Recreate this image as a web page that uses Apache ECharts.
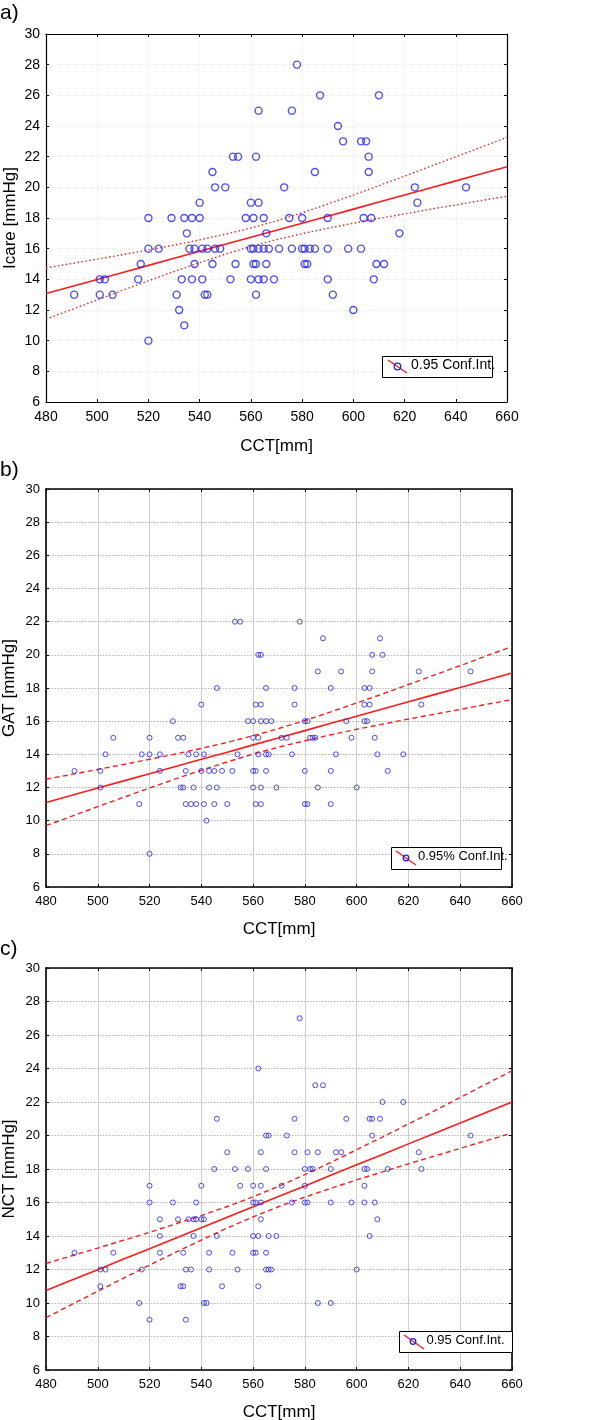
<!DOCTYPE html>
<html><head><meta charset="utf-8">
<script src="https://cdn.jsdelivr.net/npm/echarts@6/dist/echarts.min.js"></script>
<style>html,body{margin:0;padding:0;background:#fff}#c{width:600px;height:1420px}</style>
</head><body><div id="c"></div><script>
// ---------- data ----------
// Panel a) Icare [mmHg] vs CCT [mm]
const icarePts = [
 [578,28],[587,26],[610,26],[563,25],[576,25],[594,24],[596,23],[603,23],[605,23],
 [553,22],[555,22],[562,22],[606,22],[545,21],[585,21],[606,21],
 [546,20],[550,20],[573,20],[624,20],[644,20],[540,19],[560,19],[563,19],[625,19],
 [520,18],[529,18],[534,18],[537,18],[540,18],[558,18],[561,18],[565,18],[575,18],[580,18],[590,18],[604,18],[607,18],
 [535,17],[566,17],[618,17],
 [520,16],[524,16],[536,16],[538,16],[541,16],[543,16],[546,16],[548,16],[560,16],[561,16],[563,16],[565,16],[567,16],[571,16],[576,16],[580,16],[581,16],[583,16],[585,16],[590,16],[598,16],[603,16],
 [517,15],[538,15],[545,15],[554,15],[561,15],[562,15],[566,15],[581,15],[582,15],[609,15],[612,15],
 [501,14],[503,14],[516,14],[533,14],[537,14],[541,14],[552,14],[560,14],[563,14],[565,14],[569,14],[590,14],[608,14],
 [491,13],[501,13],[506,13],[531,13],[542,13],[543,13],[562,13],[592,13],
 [532,12],[600,12],[534,11],[520,10]
];
// Panel b) GAT [mmHg] vs CCT [mm]
const gatPts = [
 [553,22],[555,22],[578,22],[587,21],[609,21],[562,20],[563,20],[606,20],[610,20],
 [585,19],[594,19],[606,19],[624,19],[644,19],
 [546,18],[565,18],[576,18],[590,18],[603,18],[605,18],
 [540,17],[561,17],[563,17],[576,17],[603,17],[605,17],[625,17],
 [529,16],[558,16],[560,16],[563,16],[565,16],[567,16],[580,16],[581,16],[596,16],[603,16],[604,16],
 [506,15],[520,15],[531,15],[533,15],[560,15],[562,15],[571,15],[573,15],[582,15],[583,15],[584,15],[598,15],[607,15],
 [503,14],[517,14],[520,14],[524,14],[535,14],[538,14],[541,14],[554,14],[562,14],[565,14],[566,14],[575,14],[592,14],[608,14],[618,14],
 [491,13],[501,13],[524,13],[534,13],[540,13],[543,13],[545,13],[548,13],[552,13],[560,13],[561,13],[565,13],[580,13],[590,13],[612,13],
 [501,12],[532,12],[533,12],[537,12],[543,12],[546,12],[560,12],[563,12],[569,12],[585,12],[600,12],
 [516,11],[534,11],[536,11],[538,11],[541,11],[545,11],[550,11],[561,11],[563,11],[580,11],[581,11],[590,11],
 [542,10],[520,8]
];
// Panel c) NCT [mmHg] vs CCT [mm]
const nctPts = [
 [578,27],[562,24],[584,23],[587,23],[610,22],[618,22],
 [546,21],[576,21],[596,21],[605,21],[606,21],[609,21],
 [565,20],[566,20],[573,20],[606,20],[644,20],
 [550,19],[563,19],[576,19],[581,19],[585,19],[592,19],[594,19],[624,19],
 [545,18],[553,18],[558,18],[565,18],[580,18],[582,18],[583,18],[590,18],[603,18],[604,18],[612,18],[625,18],
 [520,17],[540,17],[555,17],[560,17],[563,17],[571,17],[580,17],[603,17],
 [520,16],[529,16],[538,16],[560,16],[561,16],[563,16],[575,16],[580,16],[581,16],[590,16],[598,16],[603,16],[607,16],
 [524,15],[531,15],[535,15],[537,15],[538,15],[540,15],[541,15],[563,15],[608,15],
 [524,14],[537,14],[546,14],[560,14],[562,14],[566,14],[569,14],[605,14],
 [491,13],[506,13],[524,13],[533,13],[543,13],[552,13],[560,13],[561,13],[565,13],
 [501,12],[503,12],[517,12],[534,12],[536,12],[543,12],[554,12],[565,12],[566,12],[567,12],[600,12],
 [501,11],[532,11],[533,11],[548,11],[562,11],
 [516,10],[541,10],[542,10],[585,10],[590,10],[520,9],[534,9]
];
// regression line and 0.95 confidence band, read at these CCT values
const bandX = [480,490,500,510,520,530,540,550,560,570,580,590,600,610,620,630,640,650,660];
const icareFit = [13.07,13.53,13.99,14.45,14.91,15.37,15.83,16.29,16.75,17.20,17.66,18.12,18.58,19.04,19.50,19.96,20.42,20.88,21.34];
const icareUp  = [14.74,15.03,15.32,15.61,15.92,16.23,16.57,16.94,17.35,17.81,18.34,18.91,19.50,20.11,20.73,21.36,21.99,22.62,23.26];
const icareLo  = [11.40,12.03,12.66,13.29,13.90,14.51,15.09,15.64,16.15,16.59,16.98,17.33,17.66,17.97,18.27,18.57,18.85,19.14,19.42];
const gatFit = [11.10,11.53,11.97,12.40,12.83,13.27,13.70,14.13,14.57,15.00,15.43,15.87,16.30,16.73,17.17,17.60,18.03,18.47,18.90];
const gatUp  = [12.50,12.79,13.09,13.39,13.70,14.02,14.36,14.72,15.12,15.56,16.04,16.56,17.10,17.64,18.21,18.78,19.35,19.93,20.50];
const gatLo  = [9.70,10.27,10.85,11.41,11.97,12.52,13.04,13.54,14.02,14.44,14.82,15.18,15.51,15.82,16.13,16.42,16.71,17.01,17.30];
const nctFit = [10.74,11.37,11.99,12.62,13.24,13.87,14.49,15.12,15.74,16.37,16.99,17.62,18.25,18.87,19.50,20.12,20.75,21.38,22.00];
const nctUp  = [12.36,12.82,13.28,13.75,14.22,14.72,15.22,15.76,16.34,16.98,17.66,18.39,19.15,19.91,20.69,21.47,22.27,23.07,23.86];
const nctLo  = [9.12,9.92,10.70,11.49,12.26,13.02,13.76,14.48,15.14,15.76,16.32,16.85,17.35,17.83,18.31,18.77,19.23,19.69,20.14];

const xTitle = 'CCT[mm]';
const yTitles = ['Icare [mmHg]', 'GAT [mmHg]', 'NCT [mmHg]'];
const panelLabels = ['a)', 'b)', 'c)'];
const legendTexts = ['0.95 Conf.Int.', '0.95% Conf.Int.', '0.95 Conf.Int.'];
const xRange = [480, 660, 20];
const yRange = [6, 30, 2];

// ---------- chart ----------
const FONT = '"Liberation Sans", Arial, sans-serif';
const BLUE = '#2020ff';
const RED = '#ff1a1a';
const grids = [
  {left: 46, top: 34, width: 461, height: 368, outerBoundsMode: 'none', containLabel: false},
  {left: 46, top: 489, width: 466, height: 398, outerBoundsMode: 'none', containLabel: false},
  {left: 46, top: 968, width: 466, height: 402, outerBoundsMode: 'none', containLabel: false}
];
const panels = [
  {pts: icarePts, fit: icareFit, up: icareUp, lo: icareLo, sym: 7, bw: 1.4, font: 14, titleFont: 17, dash: [1.5, 2.5], ciW: 1.4,
   vSplit: {color: '#ececec', type: 'dotted', width: 1}, hSplit: {color: '#ececec', type: 'dotted', width: 1}, axisW: 1.2, xGap: 36},
  {pts: gatPts, fit: gatFit, up: gatUp, lo: gatLo, sym: 5, bw: 1, font: 13, titleFont: 17, dash: [5, 3.5], ciW: 1.4,
   vSplit: {color: '#cfcfcf', type: 'solid', width: 1}, hSplit: {color: '#b5b5b5', type: [1.5, 1.5], width: 1}, axisW: 1.6, xGap: 34},
  {pts: nctPts, fit: nctFit, up: nctUp, lo: nctLo, sym: 5, bw: 1, font: 13, titleFont: 17, dash: [5, 3.5], ciW: 1.4,
   vSplit: {color: '#cfcfcf', type: 'solid', width: 1}, hSplit: {color: '#b5b5b5', type: [1.5, 1.5], width: 1}, axisW: 1.6, xGap: 34}
];

const xAxis = [], yAxis = [], series = [];
panels.forEach((p, i) => {
  const line = {show: true, onZero: false, lineStyle: {color: '#000', width: p.axisW}};
  const tick = {show: true, inside: true, length: 3, lineStyle: {color: '#000'}};
  xAxis.push({type: 'value', gridIndex: i, position: 'bottom', min: xRange[0], max: xRange[1], interval: xRange[2],
    axisLine: line, axisTick: tick,
    axisLabel: {color: '#000', fontSize: p.font, fontFamily: FONT, margin: 8},
    splitLine: {show: true, lineStyle: p.vSplit},
    name: xTitle, nameLocation: 'middle', nameGap: p.xGap,
    nameTextStyle: {color: '#000', fontSize: p.titleFont, fontFamily: FONT, verticalAlign: 'top'}});
  xAxis.push({type: 'value', gridIndex: i, position: 'top', min: xRange[0], max: xRange[1], interval: xRange[2],
    axisLine: line, axisTick: tick, axisLabel: {show: false}, splitLine: {show: false}});
  yAxis.push({type: 'value', gridIndex: i, position: 'left', min: yRange[0], max: yRange[1], interval: yRange[2],
    axisLine: line, axisTick: tick,
    axisLabel: {color: '#000', fontSize: p.font, fontFamily: FONT, margin: 6},
    splitLine: {show: true, lineStyle: p.hSplit}});
  yAxis.push({type: 'value', gridIndex: i, position: 'right', min: yRange[0], max: yRange[1], interval: yRange[2],
    axisLine: line, axisTick: tick, axisLabel: {show: false}, splitLine: {show: false}});
  const xi = i * 2, yi = i * 2;
  const mk = (vals, type, w) => ({type: 'line', xAxisIndex: xi, yAxisIndex: yi, data: bandX.map((x, k) => [x, vals[k]]),
    showSymbol: false, symbol: 'none', silent: true, z: 3, lineStyle: {color: RED, width: w, type: type}});
  series.push(mk(p.fit, 'solid', 1.6));
  series.push(mk(p.up, p.dash, p.ciW));
  series.push(mk(p.lo, p.dash, p.ciW));
  series.push({type: 'scatter', xAxisIndex: xi, yAxisIndex: yi, data: p.pts, symbol: 'circle', symbolSize: p.sym, z: 4,
    itemStyle: {color: 'rgba(0,0,0,0)', borderColor: BLUE, borderWidth: p.bw}});
});

// legend boxes, y-axis titles and panel labels
const legendBoxes = [
  {x: 382, y: 356, w: 110, h: 21, l: [388, 360, 407, 373], c: [397.5, 366.5], r: 3.3, tx: 411, font: 14},
  {x: 391, y: 847, w: 110, h: 22, l: [396, 851, 416, 865], c: [406, 858], r: 2.8, tx: 418, font: 13},
  {x: 399, y: 1331, w: 113, h: 21, l: [404, 1335, 424, 1349], c: [413, 1341.5], r: 2.8, tx: 426.5, font: 13}
];
const graphic = [];
legendBoxes.forEach((b, i) => {
  graphic.push({type: 'rect', left: b.x, top: b.y, shape: {width: b.w, height: b.h}, style: {fill: '#fff', stroke: '#000', lineWidth: 1}, z: 100});
  graphic.push({type: 'line', shape: {x1: b.l[0], y1: b.l[1], x2: b.l[2], y2: b.l[3]}, style: {stroke: RED, lineWidth: 1.4}, z: 101});
  graphic.push({type: 'circle', shape: {cx: b.c[0], cy: b.c[1], r: b.r}, style: {fill: 'rgba(0,0,0,0)', stroke: BLUE, lineWidth: 1.3}, z: 102});
  graphic.push({type: 'text', left: b.tx, top: b.y + b.h / 2 - b.font * 0.6, style: {text: legendTexts[i], fill: '#000', font: b.font + 'px ' + FONT}, z: 102});
});
const yTitlePos = [[10, 218], [9, 688], [9, 1169]];
yTitles.forEach((t, i) => {
  graphic.push({type: 'text', x: yTitlePos[i][0], y: yTitlePos[i][1], rotation: Math.PI / 2,
    style: {text: t, fill: '#000', font: '17px ' + FONT, align: 'center', verticalAlign: 'middle'}});
});
const labelTops = [3, 460, 939];
panelLabels.forEach((t, i) => {
  graphic.push({type: 'text', left: 0, top: labelTops[i], style: {text: t, fill: '#000', font: '21px ' + FONT}});
});

const chart = echarts.init(document.getElementById('c'), null, {renderer: 'canvas'});
chart.setOption({animation: false, backgroundColor: '#fff', grid: grids, xAxis, yAxis, series, graphic});
</script></body></html>
